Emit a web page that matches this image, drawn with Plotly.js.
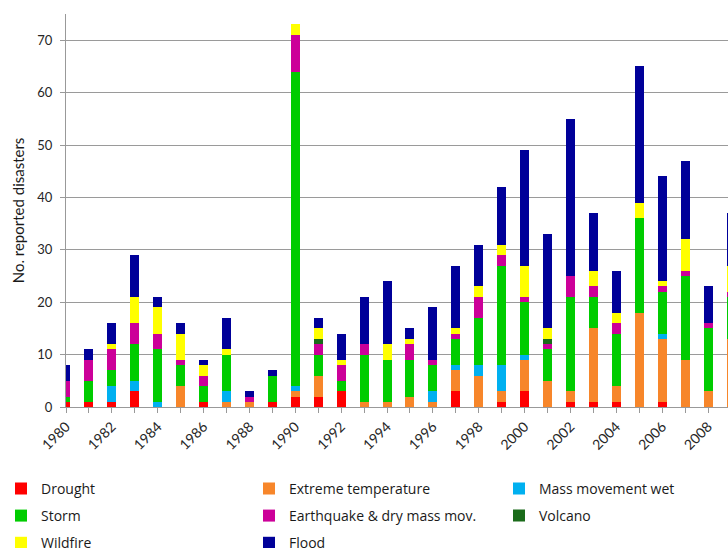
<!DOCTYPE html>
<html>
<head>
<meta charset="utf-8">
<script src="https://cdn.plot.ly/plotly-3.0.1.min.js"></script>
<style>
  html, body { margin: 0; padding: 0; background: #ffffff; }
  #chart { width: 728px; height: 548px; }
</style>
</head>
<body>
<div id="chart"></div>
<script>
const years = [1980,1981,1982,1983,1984,1985,1986,1987,1988,1989,1990,1991,1992,1993,1994,1995,1996,1997,1998,1999,2000,2001,2002,2003,2004,2005,2006,2007,2008,2009];

const drought      = [1,1,1,3,0,0,1,0,0,1,2,2,3,0,0,0,0,3,0,1,3,0,1,1,1,0,1,0,0,0];
const extremeTemp  = [0,0,0,0,0,4,0,1,1,0,1,4,0,1,1,2,1,4,6,2,6,5,2,14,3,18,12,9,3,13];
const massMoveWet  = [0,0,3,2,1,0,0,2,0,0,1,0,0,0,0,0,2,1,2,5,1,0,0,0,0,0,1,0,0,0];
const storm        = [1,4,3,7,10,4,3,7,0,5,60,4,2,9,8,7,5,5,9,19,10,6,18,6,10,18,8,16,12,8];
const earthquake   = [3,4,4,4,3,1,2,0,1,0,7,2,3,2,0,3,1,1,4,2,1,1,4,2,2,0,1,1,1,1];
const volcano      = [0,0,0,0,0,0,0,0,0,0,0,1,0,0,0,0,0,0,0,0,0,1,0,0,0,0,0,0,0,0];
const wildfire     = [0,0,1,5,5,5,2,1,0,0,2,2,1,0,3,1,0,1,2,2,6,2,0,3,2,3,1,6,0,5];
const flood        = [3,2,4,8,2,2,1,6,1,1,0,2,5,9,12,2,10,12,8,11,22,18,30,11,8,26,20,15,7,10];

const seriesNames = ["Drought","Extreme temperature","Mass movement wet","Storm","Earthquake & dry mass mov.","Volcano","Wildfire","Flood"];
const seriesValues = [drought, extremeTemp, massMoveWet, storm, earthquake, volcano, wildfire, flood];
const seriesColors = ["#ff0000","#f7862a","#00b0f0","#00cc00","#cc0099","#1a6b1a","#ffff00","#000099"];
const seriesLegend = ["legend","legend2","legend3","legend","legend2","legend3","legend","legend2"];

const FONT = "Lato, 'Open Sans', sans-serif";
const LEGEND_FONT = "'Open Sans', Lato, sans-serif";

const traces = seriesNames.map((name, i) => ({
  type: "bar",
  name: name,
  x: years,
  y: seriesValues[i],
  marker: { color: seriesColors[i], line: { width: 0 } },
  legend: seriesLegend[i],
  legendgroup: "g" + i,
  hoverinfo: "x+y+name"
}));

const legendBase = {
  orientation: "v",
  xref: "paper", yref: "paper",
  xanchor: "left", yanchor: "top",
  y: -0.1674,
  bgcolor: "rgba(0,0,0,0)",
  borderwidth: 0,
  traceorder: "grouped",
  tracegroupgap: 6,
  font: { family: LEGEND_FONT, size: 14, color: "#1a1a1a" },
  itemclick: false, itemdoubleclick: false
};

const layout = {
  width: 728,
  height: 548,
  margin: { l: 66, r: 0, t: 14, b: 141, autoexpand: false },
  paper_bgcolor: "#ffffff",
  plot_bgcolor: "#ffffff",
  barmode: "stack",
  bargap: 0.61,
  font: { family: FONT, size: 13, color: "#262626" },
  xaxis: {
    range: [1980, 2008.87],
    tick0: 1980,
    dtick: 2,
    tickangle: -45,
    ticks: "outside",
    ticklen: 5,
    tickcolor: "#999999",
    showline: true,
    linecolor: "#999999",
    linewidth: 1,
    showgrid: false,
    zeroline: false,
    tickfont: { family: FONT, size: 14, color: "#262626" },
    minor: { dtick: 1, tick0: 1980, ticks: "outside", ticklen: 5, tickcolor: "#999999", showgrid: false }
  },
  yaxis: {
    range: [0, 75],
    dtick: 10,
    tick0: 0,
    ticks: "outside",
    ticklen: 5,
    tickcolor: "#999999",
    ticklabelstandoff: 5,
    showline: true,
    linecolor: "#999999",
    linewidth: 1,
    showgrid: true,
    gridcolor: "#9a9a9a",
    gridwidth: 1,
    zeroline: false,
    tickfont: { family: FONT, size: 13, color: "#262626" },
    title: { text: "No. reported disasters", font: { family: FONT, size: 15, color: "#1a1a1a" }, standoff: 9 }
  },
  showlegend: true,
  legend: Object.assign({}, legendBase, { x: (1 - 66) / 662 }),
  legend2: Object.assign({}, legendBase, { x: (249 - 66) / 662 }),
  legend3: Object.assign({}, legendBase, { x: (499 - 66) / 662 })
};

Plotly.newPlot("chart", traces, layout, { displayModeBar: false, responsive: false, staticPlot: true });
</script>
</body>
</html>
